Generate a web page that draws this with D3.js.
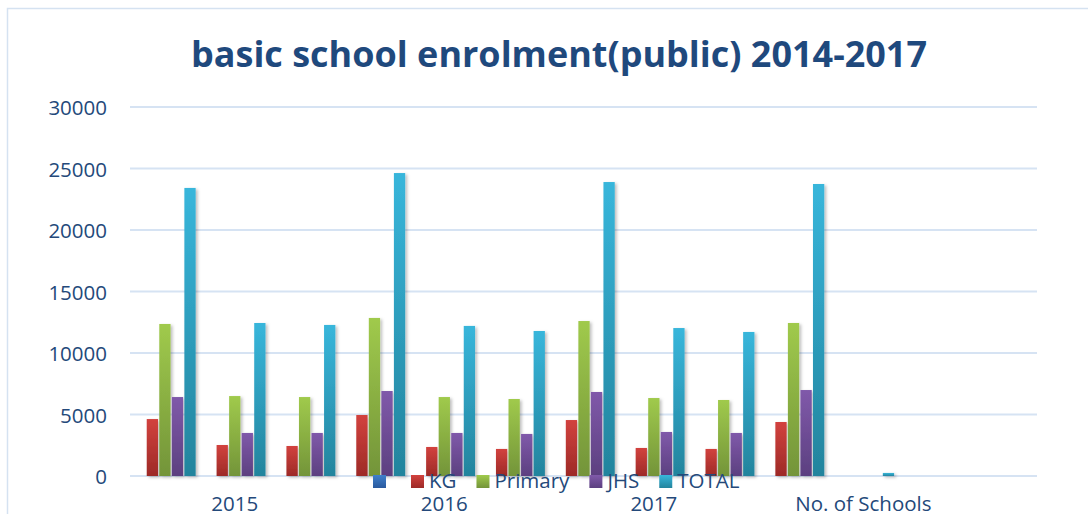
<!DOCTYPE html>
<html>
<head>
<meta charset="utf-8">
<script src="https://cdn.jsdelivr.net/npm/d3@7"></script>
<style>
  html, body { margin: 0; padding: 0; background: #ffffff; }
  svg { display: block; }
  text { font-family: "Open Sans", "Noto Sans", sans-serif; }
</style>
</head>
<body>
<svg id="chart" width="1088" height="514"></svg>
<script>
// Basic school enrolment (public), 13 category slots on the x axis
const slots = ["s1","s2","s3","s4","s5","s6","s7","s8","s9","s10","s11","s12","s13"];
// Group labels, each centred under three slots
const groupLabels = ["2015", "2016", "2017", "No. of Schools"];
const groupStart = [0, 3, 6, 9];

const seriesNames = ["", "KG", "Primary", "JHS", "TOTAL"];
const blankSeries = [null, null, null, null, null, null, null, null, null, null, null, null, null];
const kg      = [4630, 2520, 2440, 4960, 2360, 2200, 4550, 2280, 2200, 4390, null, null, null];
const primary = [12360, 6500, 6420, 12850, 6420, 6260, 12600, 6340, 6180, 12440, null, null, null];
const jhs     = [6420, 3500, 3500, 6910, 3500, 3420, 6830, 3580, 3500, 6990, null, null, null];
const total   = [23420, 12440, 12280, 24630, 12200, 11790, 23900, 12030, 11710, 23740, 250, null, null];

const yTicks = [0, 5000, 10000, 15000, 20000, 25000, 30000];

const seriesValues = [blankSeries, kg, primary, jhs, total];
const seriesColors = [
  ["#3f80cc", "#2a5a9e"],
  ["#d2423e", "#9d2a27"],
  ["#a0ca4c", "#739439"],
  ["#8059aa", "#5c4080"],
  ["#38b6db", "#23849d"]
];

const svg = d3.select("#chart");
const textColor = "#24497a";

// Chart frame
svg.append("rect")
  .attr("x", 7.5).attr("y", 8.5)
  .attr("width", 1100).attr("height", 520)
  .attr("fill", "#ffffff")
  .attr("stroke", "#d5e2f1").attr("stroke-width", 1.5);

const defs = svg.append("defs");
seriesColors.forEach((c, i) => {
  const g = defs.append("linearGradient")
    .attr("id", "grad" + i)
    .attr("x1", 0).attr("y1", 0).attr("x2", 0).attr("y2", 1);
  g.append("stop").attr("offset", "0%").attr("stop-color", c[0]);
  g.append("stop").attr("offset", "100%").attr("stop-color", c[1]);
});
const shadow = defs.append("filter").attr("id", "barShadow")
  .attr("x", "-50%").attr("y", "-10%").attr("width", "220%").attr("height", "130%");
shadow.append("feDropShadow")
  .attr("dx", 2).attr("dy", 1.5).attr("stdDeviation", 1.8)
  .attr("flood-color", "#000").attr("flood-opacity", 0.25);

// Scales
const x0 = d3.scaleBand()
  .domain(slots)
  .range([130, 1038])
  .paddingInner(0.12)
  .paddingOuter(0.06);

const x1 = d3.scaleBand()
  .domain(d3.range(seriesNames.length))
  .range([0, x0.bandwidth()])
  .paddingInner(0.1);

const y = d3.scaleLinear()
  .domain([0, 30000])
  .range([476, 107]);

// Gridlines
svg.append("g")
  .selectAll("line")
  .data(yTicks)
  .join("line")
  .attr("x1", 130).attr("x2", 1037)
  .attr("y1", d => y(d)).attr("y2", d => y(d))
  .attr("stroke", "#d6e3f3").attr("stroke-width", 2);

// Y axis labels
svg.append("g")
  .selectAll("text")
  .data(yTicks)
  .join("text")
  .attr("x", 107)
  .attr("y", d => y(d) + 8)
  .attr("text-anchor", "end")
  .attr("font-size", 20.5)
  .attr("fill", textColor)
  .text(d => d);

// Bars
const barData = [];
slots.forEach((s, i) => {
  seriesValues.forEach((vals, k) => {
    if (vals[i] != null) barData.push({ slot: s, k: k, v: vals[i] });
  });
});

svg.append("g")
  .attr("filter", "url(#barShadow)")
  .selectAll("rect")
  .data(barData)
  .join("rect")
  .attr("x", d => x0(d.slot) + x1(d.k))
  .attr("width", x1.bandwidth())
  .attr("y", d => y(d.v))
  .attr("height", d => y(0) - y(d.v))
  .attr("fill", d => "url(#grad" + d.k + ")");

// Title
svg.append("text")
  .attr("x", 559)
  .attr("y", 67)
  .attr("text-anchor", "middle")
  .attr("font-size", 36)
  .attr("font-weight", 700)
  .attr("fill", "#1f497d")
  .attr("textLength", 736)
  .attr("lengthAdjust", "spacingAndGlyphs")
  .text("basic school enrolment(public) 2014-2017");

// X group labels
svg.append("g")
  .selectAll("text")
  .data(groupLabels)
  .join("text")
  .attr("x", (d, i) => {
    const a = x0(slots[groupStart[i]]) - x0.step() * x0.paddingOuter();
    return a + 1.5 * x0.step();
  })
  .attr("y", 511)
  .attr("text-anchor", "middle")
  .attr("font-size", 20.5)
  .attr("fill", textColor)
  .text(d => d);

// Legend
const legend = svg.append("g");
let lx = 373;
seriesNames.forEach((name, k) => {
  legend.append("rect")
    .attr("x", lx).attr("y", 475)
    .attr("width", 13).attr("height", 13)
    .attr("fill", "url(#grad" + k + ")");
  const t = legend.append("text")
    .attr("x", lx + 18)
    .attr("y", 488)
    .attr("font-size", 20.5)
    .attr("fill", textColor)
    .text(name);
  const w = name ? t.node().getComputedTextLength() : 0;
  lx = lx + 18 + w + 20;
});
</script>
</body>
</html>
